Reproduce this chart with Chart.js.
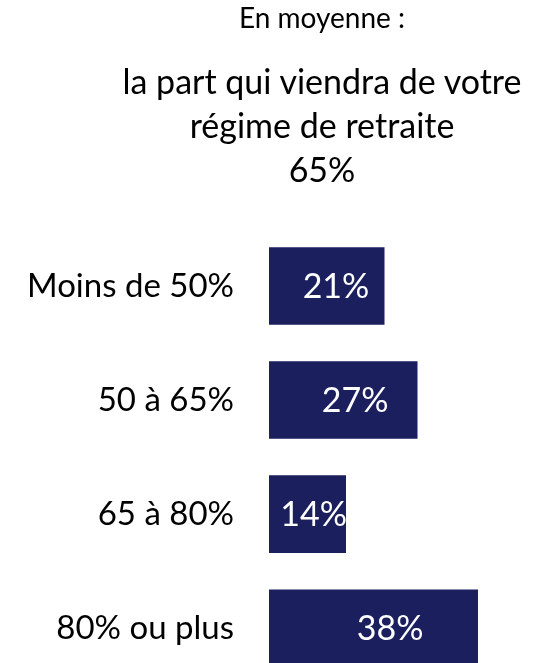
<!DOCTYPE html>
<html>
<head>
<meta charset="utf-8">
<script src="https://cdn.jsdelivr.net/npm/chart.js@4"></script>
<style>
  html, body { margin: 0; padding: 0; background: #fff; overflow: hidden; }
  #wrap { position: relative; width: 535px; height: 740px; }
  .head { position: absolute; left: 108px; width: 428px; text-align: center; font-family: Lato, sans-serif; color: #000; white-space: nowrap; }
  #sub { top: 1px; font-size: 28px; line-height: 1.2; }
  #title { top: 59px; font-size: 34px; line-height: 44px; }
</style>
</head>
<body>
<div id="wrap">
  <canvas id="chart"></canvas>
  <div class="head" id="sub">En moyenne :</div>
  <div class="head" id="title">la part qui viendra de votre<br>régime de retraite<br>65%</div>
</div>
<script>
const categories = ['Moins de 50%', '50 à 65%', '65 à 80%', '80% ou plus'];
const shares = [21, 27, 14, 38];

const barColor = '#1B1F5E';

// white value label inside each bar
const valueLabels = {
  id: 'valueLabels',
  afterDatasetsDraw(chart) {
    const ctx = chart.ctx;
    const meta = chart.getDatasetMeta(0);
    ctx.save();
    ctx.fillStyle = '#fff';
    ctx.font = '34px Lato';
    ctx.textAlign = 'center';
    ctx.textBaseline = 'middle';
    meta.data.forEach((bar, i) => {
      const x = bar.base + (bar.x - bar.base) * 0.58;
      ctx.fillText(shares[i] + '%', x, bar.y + 1);
    });
    ctx.restore();
  }
};

new Chart(document.getElementById('chart'), {
  type: 'bar',
  data: {
    labels: categories,
    datasets: [{
      data: shares,
      backgroundColor: barColor,
      barPercentage: 0.68,
      categoryPercentage: 1
    }]
  },
  options: {
    indexAxis: 'y',
    responsive: true,
    maintainAspectRatio: false,
    animation: false,
    layout: { padding: { top: 229, bottom: 0, right: 2, left: 0 } },
    plugins: {
      legend: { display: false },
      tooltip: { enabled: false }
    },
    scales: {
      x: { display: false, min: 0, max: 48 },
      y: {
        grid: { display: false, drawTicks: false },
        border: { display: false },
        ticks: { color: '#000', padding: 35, font: { family: 'Lato', size: 33 } },
        afterFit(scale) { scale.width = 269; }
      }
    }
  },
  plugins: [valueLabels]
});
</script>
</body>
</html>
